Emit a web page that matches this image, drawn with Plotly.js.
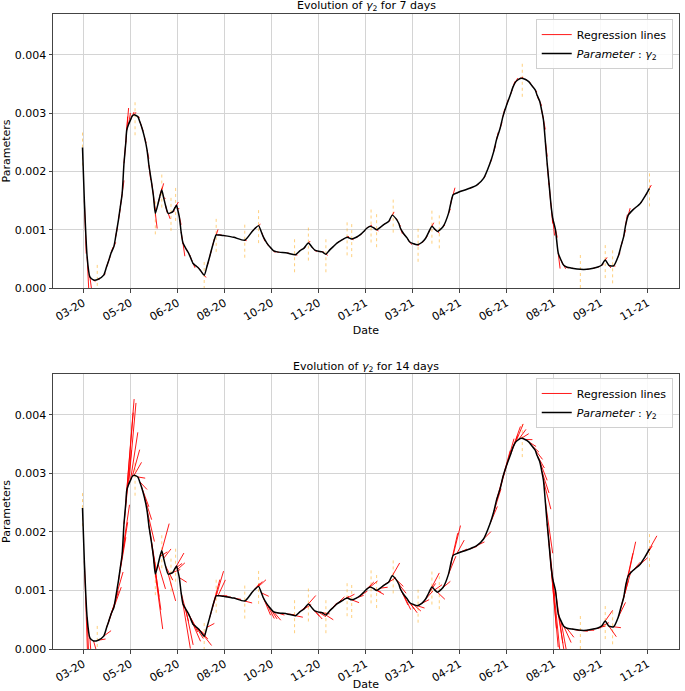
<!DOCTYPE html>
<html><head><meta charset="utf-8">
<script src="https://cdn.plot.ly/plotly-3.0.1.min.js"></script>
<style>html,body{margin:0;padding:0;background:#fff}#chart{width:685px;height:691px}</style>
</head><body><div id="chart"></div>
<script>
// ---- data ----
const startDate = [2020, 2, 15]; // day 0 = 2020-03-15
const dayOffsets = [-1,1,4,7,11,16,22,25,27,30,33,35,38,40,42,44,46,47,49,51,53,55,59,61,63,66,69,71,74,76,78,81,83,85,87,89,92,97,99,101,102,104,106,108,111,114,116,119,122,125,127,131,134,137,140,144,146,148,152,163,175,183,186,190,193,195,199,202,206,210,221,230,235,239,244,248,251,255,259,263,267,271,275,280,286,291,296,300,304,307,311,315,318,322,325,331,335,339,342,344,347,351,354,358,362,367,371,374,378,381,384,390,396,398,401,405,408,419,427,434,441,445,448,452,455,459,463,466,469,472,475,479,483,486,490,492,495,497,499,501,503,505,507,509,512,515,518,521,524,530,539,546,553,558,562,566,570,575,580,583,586,588,591,596,604,609,614];
const gamma2 = [0.00241,0.00150,0.00054,0.00019,0.000137,0.00015,0.00022,0.00036,0.00045,0.00060,0.00071,0.00088,0.00117,0.00139,0.00162,0.00214,0.00250,0.00271,0.00281,0.00288,0.00295,0.00297,0.00294,0.00286,0.00277,0.00260,0.00237,0.00211,0.00180,0.00157,0.00128,0.00145,0.00158,0.00168,0.00155,0.00142,0.00128,0.00131,0.00137,0.00142,0.00136,0.00122,0.00096,0.00077,0.00068,0.00060,0.00053,0.00042,0.00038,0.00034,0.00030,0.00022,0.00037,0.00054,0.00072,0.00091,0.00091,0.00091,0.00090,0.00087,0.00082,0.00097,0.00102,0.00107,0.00096,0.00088,0.00077,0.00071,0.00064,0.00062,0.00060,0.00057,0.00064,0.00068,0.00077,0.00070,0.00065,0.00063,0.00062,0.00058,0.00065,0.00071,0.00077,0.00082,0.00087,0.00084,0.00087,0.00091,0.00097,0.00102,0.00106,0.00103,0.00100,0.00104,0.00108,0.00114,0.00125,0.00119,0.00111,0.00102,0.00094,0.00086,0.00079,0.00076,0.00074,0.00078,0.00085,0.00094,0.00106,0.00101,0.00097,0.00105,0.00128,0.00142,0.00160,0.00163,0.00165,0.00171,0.00177,0.00188,0.00214,0.00234,0.00254,0.00274,0.00294,0.00314,0.00331,0.00345,0.00354,0.00358,0.00360,0.00358,0.00354,0.00348,0.00340,0.00331,0.00320,0.00305,0.00288,0.00252,0.00214,0.00180,0.00145,0.00120,0.00100,0.00060,0.00048,0.00039,0.00036,0.00034,0.00032,0.00032,0.00034,0.00036,0.00039,0.00048,0.00039,0.00038,0.00054,0.00071,0.00088,0.00107,0.00125,0.00134,0.00145,0.00157,0.00171];
const errDays = [-1,15,56,78,85,95,100,131,144,175,190,229,244,263,286,291,312,318,336,363,378,386,476,539,566,574,614];
const errCenters = [0.0024,0.00013,0.00292,0.00122,0.00168,0.00128,0.00145,0.00018,0.00092,0.00082,0.00107,0.00057,0.00077,0.00057,0.00086,0.00083,0.00108,0.00100,0.00125,0.00075,0.00106,0.00098,0.00358,0.00030,0.00047,0.00038,0.0017];
const errHalfWidth = 0.0003;
const tickDays = [0,51,102,153,204,255,306,357,408,459,510,561,612];
const tickLabels = ['03-20','05-20','06-20','08-20','10-20','11-20','01-21','03-21','04-21','06-21','08-21','09-21','11-21'];
const windowsDays = [7, 14];
const regFitDays = [4, 7];
const regExtendDays = [2, 8];
const panelTitles = ['Evolution of <i>γ</i><sub>2</sub> for 7 days','Evolution of <i>γ</i><sub>2</sub> for 14 days'];

// ---- helpers ----
const base = Date.UTC(startDate[0], startDate[1], startDate[2]);
function toDate(d){ return new Date(base + d*86400000).toISOString().slice(0,19).replace('T',' '); }
const dates = dayOffsets.map(toDate);

function regression(fit, ext){
  const xs=[], ys=[];
  for(let i=1;i<dayOffsets.length;i++){
    const t = dayOffsets[i];
    let idx=[];
    for(let j=0;j<=i;j++) if(dayOffsets[j] >= t-fit) idx.push(j);
    if(idx.length<2) idx=[i-1,i];
    let mx=0,my=0; idx.forEach(j=>{mx+=dayOffsets[j];my+=gamma2[j];});
    mx/=idx.length; my/=idx.length;
    let sxy=0,sxx=0; idx.forEach(j=>{sxy+=(dayOffsets[j]-mx)*(gamma2[j]-my); sxx+=(dayOffsets[j]-mx)**2;});
    const slope = sxy/sxx;
    xs.push(toDate(t), toDate(t+ext), null);
    ys.push(gamma2[i], gamma2[i]+slope*ext, null);
  }
  return {xs, ys};
}
function errLines(){
  const xs=[],ys=[];
  errDays.forEach((d,k)=>{ xs.push(toDate(d),toDate(d),null); ys.push(errCenters[k]-errHalfWidth, errCenters[k]+errHalfWidth, null); });
  return {xs,ys};
}

const font = {family:'DejaVu Sans, sans-serif', size:11, color:'#000'};
const traces = [];
windowsDays.forEach((w,p)=>{
  const xa = p===0?'x':'x2', ya = p===0?'y':'y2', lg = p===0?'legend':'legend2';
  const e = errLines();
  traces.push({x:e.xs, y:e.ys, xaxis:xa, yaxis:ya, mode:'lines', showlegend:false, hoverinfo:'skip',
    line:{color:'rgba(255,170,20,0.55)', width:1, dash:'dot'}});
  const r = regression(regFitDays[p], regExtendDays[p]);
  traces.push({x:r.xs, y:r.ys, xaxis:xa, yaxis:ya, mode:'lines', name:'Regression lines', legend:lg,
    line:{color:'rgba(255,0,0,0.9)', width:1}});
  traces.push({x:dates, y:gamma2, xaxis:xa, yaxis:ya, mode:'lines', name:'<i>Parameter</i> : <i>γ</i><sub>2</sub>', legend:lg,
    line:{color:'#000', width:1.5, shape:'spline', smoothing:0.6}});
});

const xRange = [toDate(-33), toDate(646)];
function xAxis(anchor){
  return {anchor, type:'date', range:xRange, tickmode:'array', tickvals:tickDays.map(toDate), ticktext:tickLabels,
    tickangle:-30, showgrid:true, gridcolor:'#d4d4d4', gridwidth:1, zeroline:false,
    showline:true, mirror:true, linecolor:'#444', linewidth:1, ticks:'outside', ticklen:3.5, tickcolor:'#444',
    tickfont:font, title:{text:'Date', font:font, standoff:2}};
}
function yAxis(anchor, domain){
  return {anchor, domain, range:[0,0.0047], tickmode:'linear', tick0:0, dtick:0.001, tickformat:'.3f',
    showgrid:true, gridcolor:'#d4d4d4', gridwidth:1, zeroline:false,
    showline:true, mirror:true, linecolor:'#444', linewidth:1, ticks:'outside', ticklen:3.5, tickcolor:'#444',
    tickfont:font, title:{text:'Parameters', font:font, standoff:4}};
}
const legendStyle = {xref:'paper', yref:'paper', xanchor:'right', yanchor:'top', bgcolor:'rgba(255,255,255,0.85)',
  bordercolor:'#d0d0d0', borderwidth:1, font:font, traceorder:'normal'};

const layout = {
  width:685, height:691, paper_bgcolor:'#fff', plot_bgcolor:'#fff',
  margin:{l:53, r:6, t:14, b:42}, font:font,
  xaxis:xAxis('y'), yaxis:yAxis('x',[0.5685,1]),
  xaxis2:xAxis('y2'), yaxis2:yAxis('x2',[0,0.4331]),
  legend:Object.assign({x:0.99, y:0.992}, legendStyle),
  legend2:Object.assign({x:0.99, y:0.4268}, legendStyle),
  annotations:[
    {text:panelTitles[0], xref:'paper', yref:'paper', x:0.5, y:1.0126, xanchor:'center', yanchor:'middle', showarrow:false, font:font},
    {text:panelTitles[1], xref:'paper', yref:'paper', x:0.5, y:0.444, xanchor:'center', yanchor:'middle', showarrow:false, font:font}
  ]
};
Plotly.newPlot('chart', traces, layout, {displayModeBar:false, staticPlot:true});
</script></body></html>
